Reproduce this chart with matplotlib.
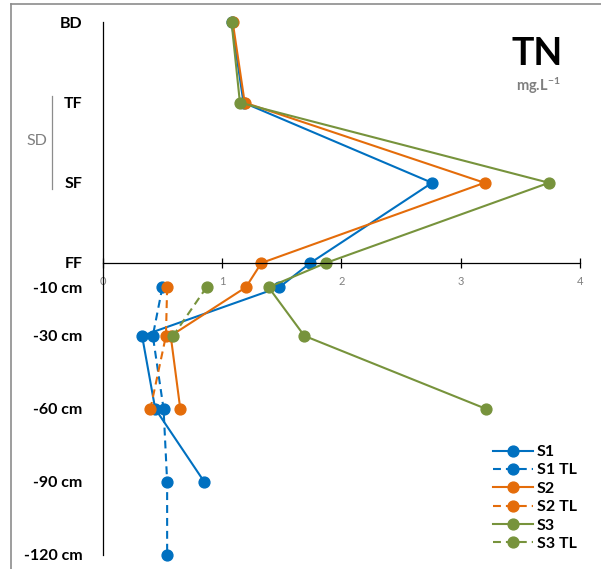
import matplotlib
matplotlib.use('Agg')
import matplotlib.pyplot as plt
from matplotlib.lines import Line2D
import numpy as np

plt.rcParams['font.family'] = ['Lato', 'DejaVu Sans']
plt.rcParams['mathtext.default'] = 'regular'

nan = np.nan
# depth levels (FF = 0, litter layers stacked above)
levels = ['BD', 'TF', 'SF', 'FF', '-10 cm', '-30 cm', '-60 cm', '-90 cm', '-120 cm']
depth = [99, 66, 33, 0, -10, -30, -60, -90, -120]

s1 = [1.08, 1.18, 2.76, 1.74, 1.48, 0.33, 0.44, 0.85, nan]
s1_tl = [nan, nan, nan, nan, 0.50, 0.42, 0.51, 0.54, 0.54]
s2 = [1.09, 1.19, 3.20, 1.33, 1.20, 0.57, 0.65, nan, nan]
s2_tl = [nan, nan, nan, nan, 0.54, 0.53, 0.40, nan, nan]
s3 = [1.08, 1.15, 3.74, 1.87, 1.39, 1.69, 3.21, nan, nan]
s3_tl = [nan, nan, nan, nan, 0.87, 0.59, nan, nan, nan]

BLUE = '#0070C0'
ORANGE = '#E46C0A'
GREEN = '#77933C'
DASH = (0, (3.8, 2.4))

W, H = 601, 569
fig = plt.figure(figsize=(W / 100, H / 100), dpi=100)
ax = fig.add_axes([102.7 / W, 1 - 554.5 / H, 477.3 / W, 533.5 / H])

series = [
    (s1, BLUE, '-', 'S1'),
    (s1_tl, BLUE, DASH, 'S1 TL'),
    (s2, ORANGE, '-', 'S2'),
    (s2_tl, ORANGE, DASH, 'S2 TL'),
    (s3, GREEN, '-', 'S3'),
    (s3_tl, GREEN, DASH, 'S3 TL'),
]
handles = []
for vals, col, ls, lab in series:
    v = np.array(vals, dtype=float)
    d = np.array(depth, dtype=float)
    m = ~np.isnan(v)
    h, = ax.plot(v[m], d[m], color=col, linestyle=ls, linewidth=1.5,
                 marker='o', markersize=7.8, clip_on=False, label=lab)
    handles.append(h)

ax.set_xlim(0, 4)
ax.set_ylim(-120, 99.6)

# axes lines
for s in ['top', 'right']:
    ax.spines[s].set_visible(False)
ax.spines['bottom'].set_position(('data', 0))
ax.spines['left'].set_position(('data', 0))
ax.spines['left'].set_bounds(-120, 99)
ax.spines['bottom'].set_linewidth(0.9)
ax.spines['left'].set_linewidth(0.9)

ax.set_xticks([0, 1, 2, 3, 4])
ax.tick_params(axis='x', direction='inout', length=7, width=0.9, pad=6,
               labelsize=8, labelcolor='#808080')
ax.set_yticks(depth, levels)
ax.tick_params(axis='y', length=0, pad=14.5, labelsize=11.5)
for t in ax.get_yticklabels():
    t.set_fontweight('bold')

# title + unit
fig.text(537 / W, 1 - 65 / H, 'TN', fontsize=27, fontweight='bold',
         ha='center', va='baseline')
fig.text(538 / W, 1 - 91 / H, 'mg.L$^{-1}$', fontsize=10.5, fontweight='bold',
         color='#7f7f7f', ha='center', va='baseline')

# SD bracket
fig.text(37 / W, 1 - 141 / H, 'SD', fontsize=11.5, color='#7f7f7f',
         ha='center', va='center')
fig.add_artist(Line2D([52 / W, 52 / W], [1 - 96 / H, 1 - 189 / H],
                      color='#8c8c8c', linewidth=0.9))

# outer frame (top and left visible)
fig.add_artist(Line2D([11 / W, 1.02], [1 - 4 / H, 1 - 4 / H],
                      color='#8c8c8c', linewidth=1.2))
fig.add_artist(Line2D([11 / W, 11 / W], [1 - 4 / H, -0.02],
                      color='#8c8c8c', linewidth=1.2))

leg = fig.legend(handles=handles, loc='upper left',
                 bbox_to_anchor=(485 / W, 1 - 437 / H), frameon=False,
                 borderpad=0, handlelength=2.5, handletextpad=0.25,
                 labelspacing=0.26, prop={'weight': 'bold', 'size': 11.5})

plt.savefig('out.png', dpi=100)
plt.close()
